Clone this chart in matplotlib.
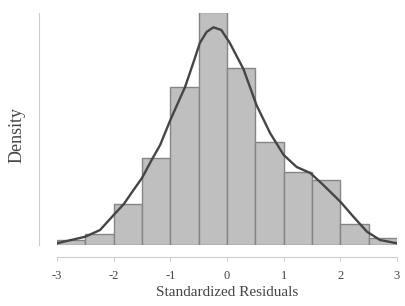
import numpy as np
import matplotlib
matplotlib.use("Agg")
import matplotlib.pyplot as plt

# histogram bins (width 0.5) and densities
bin_edges = [-3.0, -2.5, -2.0, -1.5, -1.0, -0.5, 0.0, 0.5, 1.0, 1.5, 2.0, 2.5, 3.0]
bin_density = [0.010, 0.022, 0.084, 0.177, 0.322, 0.475, 0.361, 0.210, 0.149, 0.133, 0.043, 0.014]

# density curve, points
kde_x = [-3.0, -2.75, -2.5, -2.24, -2.0, -1.82, -1.65, -1.5, -1.33, -1.18, -1.0,
         -0.74, -0.59, -0.48, -0.36, -0.24, -0.1, 0.05, 0.17, 0.29, 0.52, 0.76,
         1.0, 1.23, 1.47, 1.7, 2.0, 2.23, 2.47, 2.7, 3.0]
kde_y = [0.0035, 0.0102, 0.0169, 0.0306, 0.0612, 0.0836, 0.1121, 0.1366, 0.1733, 0.2039, 0.2548,
         0.3221, 0.3731, 0.4118, 0.4343, 0.4438, 0.4383, 0.4118, 0.3853, 0.3588, 0.2854, 0.2283,
         0.1835, 0.1590, 0.1468, 0.1223, 0.0883, 0.0577, 0.0271, 0.0102, 0.0035]

xticks = [-3, -2, -1, 0, 1, 2, 3]

plt.rcParams['font.family'] = ['Liberation Serif', 'DejaVu Serif']

fig = plt.figure(figsize=(4.05, 3.06), dpi=100)
ax = fig.add_axes([57/405, 61/306, 340/405, 232/306])

lefts = np.array(bin_edges[:-1])
widths = np.diff(bin_edges)
ax.bar(lefts, bin_density, width=widths, align='edge',
       color='#bfbfbf', edgecolor='#858585', linewidth=1.0)
ax.plot(kde_x, kde_y, color='#454545', linewidth=1.7,
        solid_capstyle='round', solid_joinstyle='round')

ax.set_xlim(-3, 3)
ax.set_ylim(0, 0.473)
ax.set_xticks(xticks)
ax.set_xticklabels([str(t) for t in xticks])
ax.set_yticks([])

for side in ['top', 'right']:
    ax.spines[side].set_visible(False)
ax.spines['left'].set_position(('outward', 13))
ax.spines['bottom'].set_position(('outward', 8.6))
ax.spines['left'].set_color('#cccccc')
ax.spines['bottom'].set_color('#cccccc')
ax.tick_params(axis='x', length=3, color='#cccccc', labelsize=9,
               labelcolor='#444444', pad=6.5)

ax.set_xlabel('Standardized Residuals', fontsize=11, color='#444444', labelpad=3)
ax.set_ylabel('Density', fontsize=13, color='#444444')
# move the label a little lower and right, like the original
ax.yaxis.set_label_coords(-0.093, 0.475)

fig.savefig('out.png', dpi=100)
